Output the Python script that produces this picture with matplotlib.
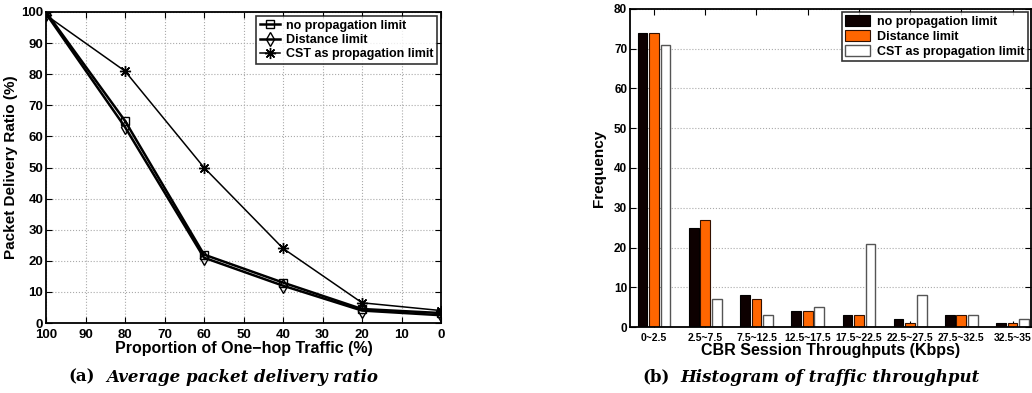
import numpy as np
import matplotlib.pyplot as plt

plt.rcParams['font.family'] = ['Liberation Sans', 'DejaVu Sans']
plt.rcParams['font.weight'] = 'bold'
plt.rcParams['axes.labelweight'] = 'bold'

# left chart: packet delivery ratio vs one-hop traffic share
one_hop = [100, 80, 60, 40, 20, 0]
pdr_none = [100, 65, 22, 13, 4.5, 3.2]
pdr_dist = [99.5, 63, 21, 12, 4, 2.5]
pdr_cst = [99, 81, 50, 24, 6.5, 4]

# right chart: histogram of throughput
bins = ['0~2.5', '2.5~7.5', '7.5~12.5', '12.5~17.5', '17.5~22.5',
        '22.5~27.5', '27.5~32.5', '32.5~35']
freq_none = [74, 25, 8, 4, 3, 2, 3, 1]
freq_dist = [74, 27, 7, 4, 3, 1, 3, 1]
freq_cst = [71, 7, 3, 5, 21, 8, 3, 2]

names = ['no propagation limit', 'Distance limit', 'CST as propagation limit']

fig = plt.figure(figsize=(10.32, 3.93), dpi=100)

# ---- (a)
ax1 = fig.add_axes([46/1032, 70/393, 395/1032, 311/393])
ax1.plot(one_hop, pdr_none, color='black', lw=1.8, marker='s', ms=6,
         mfc='none', mec='black', mew=1.0, label=names[0])
ax1.plot(one_hop, pdr_dist, color='black', lw=1.8, marker='d', ms=7,
         mfc='none', mec='black', mew=1.0, label=names[1])
ax1.plot(one_hop, pdr_cst, color='black', lw=1.1, marker=(8, 2, 0), ms=8,
         mec='black', mew=1.0, label=names[2])
ax1.set_xlim(100, 0)
ax1.set_ylim(0, 100)
ax1.set_xticks(np.arange(100, -1, -10))
ax1.set_yticks(np.arange(0, 101, 10))
ax1.grid(True, color='#aaaaaa', ls=':', lw=0.8)
ax1.tick_params(direction='in', top=True, right=True, labelsize=9.5, length=4)
ax1.tick_params(axis='x', pad=4)
ax1.tick_params(axis='y', pad=2)
for s in ax1.spines.values():
    s.set_linewidth(1.3)
ax1.set_xlabel('Proportion of One\u2212hop Traffic (%)', fontsize=11.5, labelpad=0)
ax1.set_ylabel('Packet Delivery Ratio (%)', fontsize=11, labelpad=2)
leg1 = ax1.legend(loc='upper right', fontsize=9, frameon=True, fancybox=False,
                  edgecolor='black', handlelength=1.6, handletextpad=0.5,
                  borderpad=0.3, labelspacing=0.2, borderaxespad=0.3)
leg1.get_frame().set_linewidth(1.2)

# ---- (b)
ax2 = fig.add_axes([630/1032, 66/393, 401/1032, 318/393])
x = np.arange(1, len(bins) + 1)
w = 0.19
ax2.bar(x - 0.225, freq_none, w, color='#0d0000', edgecolor='black', lw=0.8, label=names[0])
ax2.bar(x, freq_dist, w, color='#ff6600', edgecolor='#331100', lw=0.8, label=names[1])
ax2.bar(x + 0.225, freq_cst, w, color='white', edgecolor='#555555', lw=1.0, label=names[2])
ax2.set_xlim(0.53, 8.36)
ax2.set_ylim(0, 80)
ax2.set_xticks(x)
ax2.set_xticklabels(bins)
ax2.set_yticks(np.arange(0, 81, 10))
ax2.yaxis.grid(True, color='#aaaaaa', ls=':', lw=0.8)
ax2.set_axisbelow(True)
ax2.tick_params(direction='in', top=True, right=True, length=4)
ax2.tick_params(axis='x', labelsize=7.5, pad=4)
ax2.tick_params(axis='y', labelsize=8.5, pad=2)
for s in ax2.spines.values():
    s.set_linewidth(1.3)
ax2.set_xlabel('CBR Session Throughputs (Kbps)', fontsize=11.5, labelpad=0)
ax2.set_ylabel('Frequency', fontsize=11, labelpad=6)
leg2 = ax2.legend(loc='upper right', fontsize=9, frameon=True, fancybox=False,
                  edgecolor='black', handlelength=2.0, handleheight=1.0,
                  handletextpad=0.6, borderpad=0.25, labelspacing=0.15,
                  borderaxespad=0.25)
leg2.get_frame().set_linewidth(1.2)

# captions
cap_y = 1 - 377/393
fig.text(68/1032, cap_y, '(a)', ha='left', va='center', fontsize=12,
         family='DejaVu Serif', weight='bold')
fig.text(106/1032, cap_y, 'Average packet delivery ratio', ha='left', va='center',
         fontsize=12, family='DejaVu Serif', weight='bold', style='italic')
fig.text(642/1032, cap_y, '(b)', ha='left', va='center', fontsize=12,
         family='DejaVu Serif', weight='bold')
fig.text(680/1032, cap_y, 'Histogram of traffic throughput', ha='left', va='center',
         fontsize=12, family='DejaVu Serif', weight='bold', style='italic')

fig.savefig('out.png', dpi=100)
